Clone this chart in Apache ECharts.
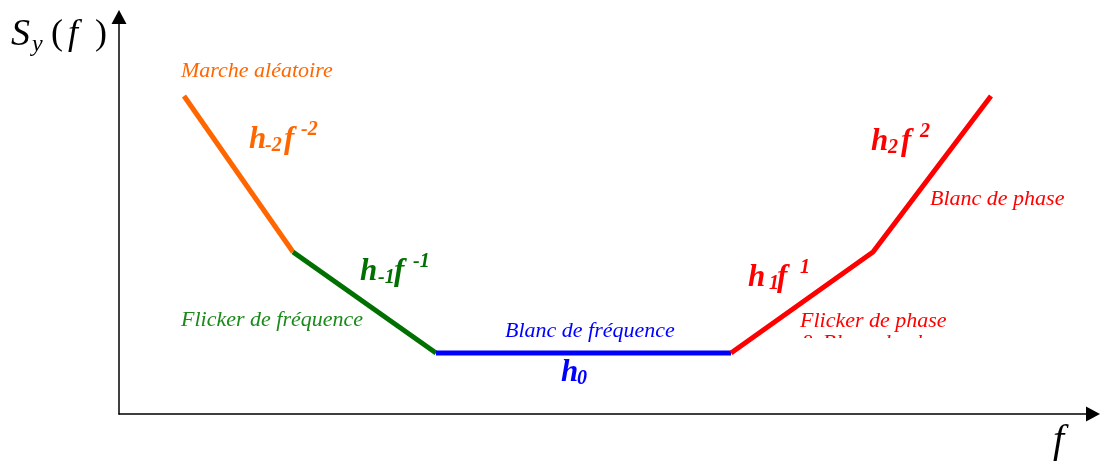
<!DOCTYPE html>
<html>
<head>
<meta charset="utf-8">
<script src="https://cdn.jsdelivr.net/npm/echarts@6/dist/echarts.min.js"></script>
<style>
  html, body { margin: 0; padding: 0; background: #fff; }
  #chart { width: 1100px; height: 464px; }
</style>
</head>
<body>
<div id="chart"></div>
<script>
// segments of the noise spectrum (x = frequency position, y = level)
var marcheX = [65, 174];
var marcheY = [318, 162];
var flickerFreqX = [174, 317];
var flickerFreqY = [162, 61];
var blancFreqX = [317, 612];
var blancFreqY = [61, 61];
var phaseX = [612, 754, 872];
var phaseY = [61, 162, 318];

function pairs(xs, ys) {
    var res = [];
    for (var i = 0; i < xs.length; i++) res.push([xs[i], ys[i]]);
    return res;
}

var serif = 'Liberation Serif';
var myChart = echarts.init(document.getElementById('chart'));

function segment(name, xs, ys, color) {
    return {
        name: name,
        type: 'line',
        data: pairs(xs, ys),
        symbol: 'none',
        lineStyle: { color: color, width: 5 }
    };
}

// a piece of text placed by its left edge and baseline
function txt(x, base, text, color, size, style, weight) {
    return {
        type: 'text', x: x, y: base - 0.34 * size, z: 10,
        style: {
            text: text, fill: color, verticalAlign: 'middle', align: 'left',
            font: (style || 'normal') + ' ' + (weight || 'normal') + ' ' + size + 'px "' + serif + '"'
        }
    };
}

function label(x, base, text, color) {
    return txt(x, base, text, color, 22, 'italic');
}

// h_sub f^sup : [hx, base, subx, fx, supx]
function formula(pos, color, sub, sup) {
    var out = [
        txt(pos[0], pos[1], 'h', color, 31, 'italic', 'bold'),
        txt(pos[2], pos[1] + 2, sub, color, 20, 'italic', 'bold')
    ];
    if (pos[3] != null) {
        out.push(txt(pos[3], pos[1], 'f', color, 31, 'italic', 'bold'));
        out.push(txt(pos[4], pos[1] - 14, sup, color, 20, 'italic', 'bold'));
    }
    return out;
}

var axisLine = {
    show: true, onZero: false,
    symbol: ['none', 'triangle'], symbolSize: [15, 14],
    lineStyle: { color: '#000', width: 1.5 }
};

option = {
    animation: false,
    grid: { left: 119, right: 7, top: 17, bottom: 50 },
    xAxis: {
        type: 'value', min: 0, max: 974,
        axisLine: axisLine,
        axisTick: { show: false }, axisLabel: { show: false }, splitLine: { show: false }
    },
    yAxis: {
        type: 'value', min: 0, max: 397,
        axisLine: axisLine,
        axisTick: { show: false }, axisLabel: { show: false }, splitLine: { show: false }
    },
    series: [
        segment('Marche aléatoire', marcheX, marcheY, '#FF6600'),
        segment('Flicker de fréquence', flickerFreqX, flickerFreqY, '#007000'),
        segment('Blanc de fréquence', blancFreqX, blancFreqY, '#0000FF'),
        segment('Phase', phaseX, phaseY, '#FF0000')
    ],
    graphic: [
        txt(11, 48, 'S', '#000', 38, 'italic'),
        txt(32, 53, 'y', '#000', 24, 'italic'),
        txt(51, 47, '(', '#000', 36),
        txt(68, 47, 'f', '#000', 36, 'italic'),
        txt(95, 47, ')', '#000', 36),

        label(181, 79, 'Marche aléatoire', '#FF6600'),
        label(181, 328, 'Flicker de fréquence', '#1a8a1a'),
        label(505, 339, 'Blanc de fréquence', '#0000FF'),
        label(800, 329, 'Flicker de phase', '#FF0000'),
        label(800, 351, '& Blanc de phase', '#FF0000'),
        { type: 'rect', shape: { x: 790, y: 338, width: 170, height: 24 }, style: { fill: '#fff' }, z: 11 },
        label(930, 207, 'Blanc de phase', '#FF0000'),
        txt(1053, 455, 'f', '#000', 40, 'italic')
    ]
    .concat(formula([249, 151, 265, 284, 301], '#FF6600', '-2', '-2'))
    .concat(formula([360, 283, 378, 394, 413], '#007000', '-1', '-1'))
    .concat(formula([748, 289, 769, 777, 800], '#FF0000', '1', '1'))
    .concat(formula([871, 153, 888, 901, 920], '#FF0000', '2', '2'))
    .concat(formula([561, 384, 577], '#0000FF', '0'))
};

myChart.setOption(option);
</script>
</body>
</html>
